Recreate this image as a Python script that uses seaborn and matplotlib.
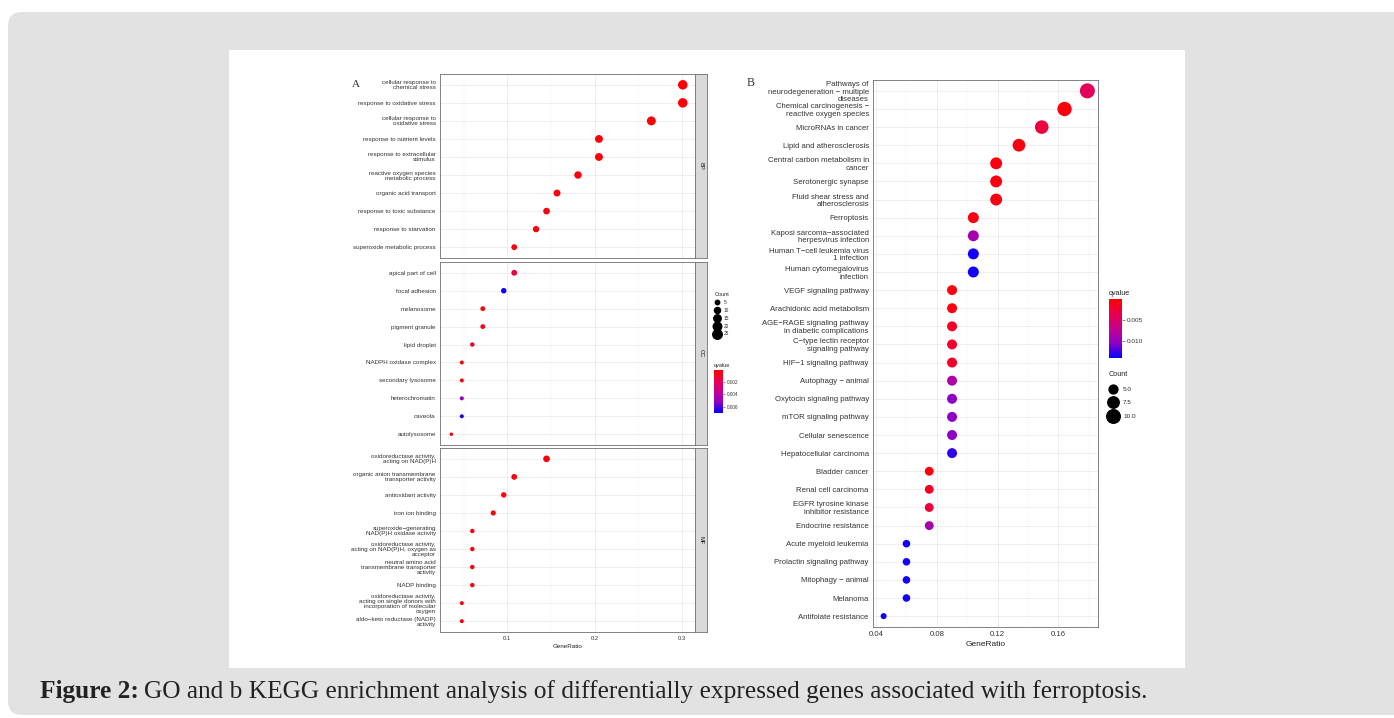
import numpy as np
import pandas as pd
import matplotlib
matplotlib.use("Agg")
import matplotlib.pyplot as plt
import seaborn as sns
from matplotlib.colors import LinearSegmentedColormap, Normalize
from matplotlib.patches import FancyBboxPatch, Rectangle
from matplotlib.lines import Line2D
from matplotlib.cm import ScalarMappable
from matplotlib.transforms import IdentityTransform

# ---------------- data ----------------
bp_terms = ["cellular response to\nchemical stress", "response to oxidative stress",
            "cellular response to\noxidative stress", "response to nutrient levels",
            "response to extracellular\nstimulus", "reactive oxygen species\nmetabolic process",
            "organic acid transport", "response to toxic substance",
            "response to starvation", "superoxide metabolic process"]
bp_ratio = [0.301, 0.301, 0.265, 0.205, 0.205, 0.181, 0.157, 0.145, 0.133, 0.108]
bp_count = [25, 25, 22, 17, 17, 15, 13, 12, 11, 9]
bp_q = [0.0002, 0.0002, 0.0002, 0.0003, 0.0003, 0.0003, 0.0004, 0.0004, 0.0004, 0.0004]

cc_terms = ["apical part of cell", "focal adhesion", "melanosome", "pigment granule",
            "lipid droplet", "NADPH oxidase complex", "secondary lysosome",
            "heterochromatin", "caveola", "autolysosome"]
cc_ratio = [0.108, 0.096, 0.072, 0.072, 0.060, 0.048, 0.048, 0.048, 0.048, 0.036]
cc_count = [9, 8, 6, 6, 5, 4, 4, 4, 4, 3]
cc_q = [0.0015, 0.0068, 0.0005, 0.0005, 0.0012, 0.0005, 0.0005, 0.0052, 0.0066, 0.0005]

mf_terms = ["oxidoreductase activity,\nacting on NAD(P)H",
            "organic anion transmembrane\ntransporter activity",
            "antioxidant activity", "iron ion binding",
            "superoxide\u2212generating\nNAD(P)H oxidase activity",
            "oxidoreductase activity,\nacting on NAD(P)H, oxygen as\nacceptor",
            "neutral amino acid\ntransmembrane transporter\nactivity",
            "NADP binding",
            "oxidoreductase activity,\nacting on single donors with\nincorporation of molecular\noxygen",
            "aldo\u2212keto reductase (NADP)\nactivity"]
mf_ratio = [0.145, 0.108, 0.096, 0.084, 0.060, 0.060, 0.060, 0.060, 0.048, 0.048]
mf_count = [12, 9, 8, 7, 5, 5, 5, 5, 4, 4]
mf_q = [0.0004, 0.0004, 0.0004, 0.0004, 0.0004, 0.0004, 0.0004, 0.0004, 0.0004, 0.0004]

kegg_terms = ["Pathways of\nneurodegeneration \u2212 multiple\ndiseases",
              "Chemical carcinogenesis \u2212\nreactive oxygen species",
              "MicroRNAs in cancer", "Lipid and atherosclerosis",
              "Central carbon metabolism in\ncancer", "Serotonergic synapse",
              "Fluid shear stress and\natherosclerosis", "Ferroptosis",
              "Kaposi sarcoma\u2212associated\nherpesvirus infection",
              "Human T\u2212cell leukemia virus\n1 infection",
              "Human cytomegalovirus\ninfection", "VEGF signaling pathway",
              "Arachidonic acid metabolism",
              "AGE\u2212RAGE signaling pathway\nin diabetic complications",
              "C\u2212type lectin receptor\nsignaling pathway", "HIF\u22121 signaling pathway",
              "Autophagy \u2212 animal", "Oxytocin signaling pathway",
              "mTOR signaling pathway", "Cellular senescence",
              "Hepatocellular carcinoma", "Bladder cancer", "Renal cell carcinoma",
              "EGFR tyrosine kinase\ninhibitor resistance", "Endocrine resistance",
              "Acute myeloid leukemia", "Prolactin signaling pathway",
              "Mitophagy \u2212 animal", "Melanoma", "Antifolate resistance"]
kegg_ratio = [0.179, 0.164, 0.149, 0.134, 0.119, 0.119, 0.119, 0.104, 0.104, 0.104,
              0.104, 0.090, 0.090, 0.090, 0.090, 0.090, 0.090, 0.090, 0.090, 0.090,
              0.090, 0.075, 0.075, 0.075, 0.075, 0.060, 0.060, 0.060, 0.060, 0.045]
kegg_count = [12, 11, 10, 9, 8, 8, 8, 7, 7, 7, 7, 6, 6, 6, 6, 6, 6, 6, 6, 6, 6,
              5, 5, 5, 5, 4, 4, 4, 4, 3]
kegg_q = [0.0042, 0.0008, 0.0030, 0.0010, 0.0010, 0.0010, 0.0010, 0.0010, 0.0090, 0.0135,
          0.0135, 0.0008, 0.0010, 0.0020, 0.0022, 0.0020, 0.0085, 0.0105, 0.0105, 0.0105,
          0.0128, 0.0008, 0.0018, 0.0028, 0.0088, 0.0135, 0.0135, 0.0135, 0.0135, 0.0135]

go_xticks = [0.1, 0.2, 0.3]
kegg_xticks = [0.04, 0.08, 0.12, 0.16]
go_q_ticks = [0.002, 0.004, 0.006]
kegg_q_ticks = [0.005, 0.010]
go_count_breaks = [5, 10, 15, 20, 25]
kegg_count_breaks = [5.0, 7.5, 10.0]

# ---------------- style ----------------
sns.set_theme(style="white")
plt.rcParams['font.family'] = ['Liberation Sans', 'DejaVu Sans']

W, H = 1394, 718
fig = plt.figure(figsize=(W / 100, H / 100), dpi=100)
fig.patch.set_facecolor("white")


def rect(x0, y0, x1, y1):
    return [x0 / W, 1 - y1 / H, (x1 - x0) / W, (y1 - y0) / H]


bg = FancyBboxPatch((8, 3), 1420, 703, boxstyle="round,pad=0,rounding_size=14",
                    transform=IdentityTransform(), facecolor="#e2e2e2",
                    edgecolor="none", zorder=-5)
fig.add_artist(bg)
white = Rectangle((229, H - 668), 956, 618, transform=IdentityTransform(),
                  facecolor="white", edgecolor="none", zorder=-4)
fig.add_artist(white)

cmap = LinearSegmentedColormap.from_list(
    "rb", ["#ff0000", "#e8004e", "#c4008e", "#8e00c6", "#0000ff"])

GO_NORM = (0.0001, 0.0070)
KEGG_NORM = (0.0002, 0.0140)
GO_SIZES, GO_SNORM = (6.5, 47.0), (3, 25)
KEGG_SIZES, KEGG_SNORM = (19.0, 117.0), (3, 12)


def size_of(c, sizes, snorm):
    return sizes[0] + (c - snorm[0]) / (snorm[1] - snorm[0]) * (sizes[1] - sizes[0])


def dotpanel(ax, terms, ratio, count, qv, norm, sizes, snorm, xlim, xticks,
             ylab_fs, show_x, xlab_fs, lsp):
    df = pd.DataFrame({"Description": terms, "GeneRatio": ratio,
                       "Count": count, "qvalue": qv})
    sns.scatterplot(data=df, x="GeneRatio", y="Description", hue="qvalue",
                    hue_norm=norm, palette=cmap, size="Count", sizes=sizes,
                    size_norm=snorm, legend=False, linewidth=0, ax=ax, zorder=3)
    n = len(terms)
    ax.set_xticks(xticks)
    step = xticks[1] - xticks[0]
    minor = [xticks[0] - step / 2] + [t + step / 2 for t in xticks]
    ax.set_xticks(minor, minor=True)
    ax.set_xlim(*xlim)
    ax.set_ylim(n - 1 + 0.6, -0.6)
    ax.set_axisbelow(True)
    ax.grid(True, which="major", color="#ebebeb", lw=0.6)
    ax.grid(True, which="minor", axis="x", color="#f4f4f4", lw=0.35)
    ax.set_facecolor("white")
    for s in ax.spines.values():
        s.set_color("#6f6f6f")
        s.set_linewidth(0.6)
    ax.tick_params(axis="y", labelsize=ylab_fs, colors="#333333", length=2,
                   width=0.5, pad=1)
    ax.tick_params(axis="x", which="major", labelsize=xlab_fs, colors="#333333",
                   length=2, width=0.5, pad=1)
    ax.tick_params(axis="x", which="minor", length=0)
    for t in ax.get_yticklabels():
        t.set_linespacing(lsp)
    ax.set_ylabel("")
    ax.set_xlabel("")
    if not show_x:
        ax.tick_params(axis="x", labelbottom=False, length=0, which="both")


# ---------------- Panel A ----------------
go_xlim = (0.023, 0.315)
facets = [("BP", bp_terms, bp_ratio, bp_count, bp_q, 74, 258),
          ("CC", cc_terms, cc_ratio, cc_count, cc_q, 262, 445),
          ("MF", mf_terms, mf_ratio, mf_count, mf_q, 448, 632)]
for i, (lab, terms, ratio, count, qv, top, bot) in enumerate(facets):
    ax = fig.add_axes(rect(440, top, 695, bot))
    dotpanel(ax, terms, ratio, count, qv, GO_NORM, GO_SIZES, GO_SNORM, go_xlim,
             go_xticks, 4.5, i == 2, 4.2, 1.0)
    sax = fig.add_axes(rect(695, top, 707, bot))
    sax.set_facecolor("#d9d9d9")
    sax.set_xticks([])
    sax.set_yticks([])
    for s in sax.spines.values():
        s.set_color("#6f6f6f")
        s.set_linewidth(0.6)
    sax.text(0.5, 0.5, lab, rotation=-90, ha="center", va="center",
             fontsize=4.2, color="#1a1a1a", transform=sax.transAxes)
    if i == 2:
        ax.set_xlabel("GeneRatio", fontsize=4.5, color="#222222", labelpad=2)

# legend A: Count
hA = [Line2D([], [], marker="o", ls="", color="black",
             markersize=np.sqrt(size_of(c, GO_SIZES, GO_SNORM)))
      for c in go_count_breaks]
legA = fig.legend(hA, [str(c) for c in go_count_breaks], title="Count",
                  loc="upper left", bbox_to_anchor=(711 / W, 1 - 289 / H),
                  frameon=False, fontsize=3.4, title_fontsize=4.0,
                  labelspacing=0.6, handletextpad=0.6, borderpad=0.2,
                  handlelength=1.3)
legA._legend_box.align = "left"

caxA = fig.add_axes(rect(714, 370, 723, 413))
cbA = fig.colorbar(ScalarMappable(norm=Normalize(*GO_NORM), cmap=cmap), cax=caxA)
cbA.outline.set_visible(False)
caxA.invert_yaxis()
cbA.set_ticks(go_q_ticks)
cbA.set_ticklabels([f"{v:.3f}" for v in go_q_ticks])
caxA.tick_params(labelsize=3.4, length=1.5, width=0.4, colors="#333333", pad=1)
caxA.set_title("qvalue", loc="left", fontsize=4.0, pad=2, color="#222222")

# ---------------- Panel B ----------------
axB = fig.add_axes(rect(873, 80, 1098, 627))
dotpanel(axB, kegg_terms, kegg_ratio, kegg_count, kegg_q, KEGG_NORM, KEGG_SIZES,
         KEGG_SNORM, (0.038, 0.186), kegg_xticks, 5.6, True, 5.6, 1.12)
axB.set_xticklabels([f"{v:.2f}" for v in kegg_xticks])
axB.set_xlabel("GeneRatio", fontsize=6.0, color="#222222", labelpad=2)

caxB = fig.add_axes(rect(1109, 299, 1122, 358))
cbB = fig.colorbar(ScalarMappable(norm=Normalize(*KEGG_NORM), cmap=cmap), cax=caxB)
cbB.outline.set_visible(False)
caxB.invert_yaxis()
cbB.set_ticks(kegg_q_ticks)
cbB.set_ticklabels([f"{v:.3f}" for v in kegg_q_ticks])
caxB.tick_params(labelsize=4.6, length=2, width=0.4, colors="#333333", pad=1.5)
caxB.set_title("qvalue", loc="left", fontsize=5.2, pad=3, color="#222222")

hB = [Line2D([], [], marker="o", ls="", color="black",
             markersize=np.sqrt(size_of(c, KEGG_SIZES, KEGG_SNORM)))
      for c in kegg_count_breaks]
legB = fig.legend(hB, [f"{c:.1f}" for c in kegg_count_breaks], title="Count",
                  loc="upper left", bbox_to_anchor=(1104 / W, 1 - 367 / H),
                  frameon=False, fontsize=4.6, title_fontsize=5.2,
                  labelspacing=1.25, handletextpad=0.8, borderpad=0.2,
                  handlelength=1.5)
legB._legend_box.align = "left"

# panel letters
fig.text(352 / W, 1 - 87 / H, "A", family=["Liberation Serif", "DejaVu Serif"],
         fontsize=8, color="#333333")
fig.text(747 / W, 1 - 86 / H, "B", family=["Liberation Serif", "DejaVu Serif"],
         fontsize=8.5, color="#333333")

# caption
t1 = fig.text(40 / W, 1 - 698 / H, "Figure 2:", family=["Liberation Serif", "DejaVu Serif"],
              fontsize=18.3, fontweight="bold", color="#222222", va="baseline")
fig.canvas.draw()
bb = t1.get_window_extent()
fig.text((bb.x1 + 5) / W, 1 - 698 / H,
         "GO and b KEGG enrichment analysis of differentially expressed genes associated with ferroptosis.",
         family=["Liberation Serif", "DejaVu Serif"], fontsize=18.3, color="#222222",
         va="baseline")

fig.savefig("out.png", dpi=100, facecolor=fig.get_facecolor())
